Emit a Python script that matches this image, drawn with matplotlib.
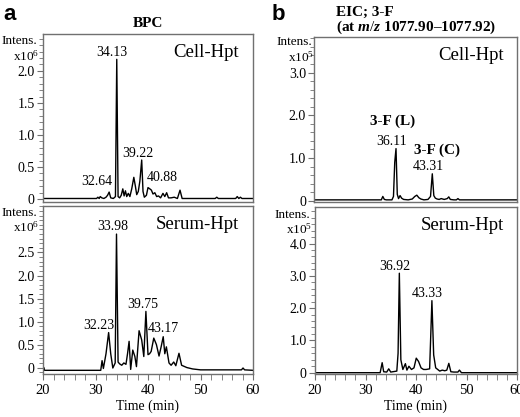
import matplotlib
matplotlib.use("Agg")
import matplotlib.pyplot as plt
from matplotlib.ticker import MultipleLocator

plt.rcParams['font.family'] = ['Liberation Serif', 'DejaVu Serif']
plt.rcParams['mathtext.fontset'] = 'custom'
plt.rcParams['mathtext.rm'] = 'Liberation Serif'
plt.rcParams['mathtext.it'] = 'Liberation Serif:italic:bold'
plt.rcParams['mathtext.bf'] = 'Liberation Serif:bold'

# BPC, Cell-Hpt (x10^6)
cell_bpc_t = [20.0, 30.2, 30.45, 30.7, 30.9, 31.2, 31.6, 32.0, 32.3, 32.6, 32.9, 33.4, 33.8, 34.05,
              34.3, 34.6, 34.9, 35.2, 35.45, 35.7, 35.95, 36.25, 36.55, 36.9, 37.3, 37.6, 37.85, 38.15,
              38.45, 38.8, 39.05, 39.3, 39.7, 40.0, 40.35, 40.65, 40.95, 41.3, 41.65, 42.0, 42.4, 42.85,
              43.2, 43.55, 43.9, 44.4, 45.0, 45.6, 46.1, 46.5, 47.0, 52.8, 53.1, 53.4, 56.7, 57.0, 57.3,
              57.6, 57.9, 60.0]
cell_bpc_v = [0.01, 0.01, 0.03, 0.01, 0.04, 0.02, 0.01, 0.03, 0.06, 0.11, 0.02, 0.01, 0.04, 2.18,
              0.04, 0.02, 0.06, 0.16, 0.05, 0.13, 0.04, 0.09, 0.04, 0.16, 0.34, 0.20, 0.07, 0.12,
              0.28, 0.61, 0.12, 0.03, 0.06, 0.18, 0.16, 0.14, 0.08, 0.10, 0.04, 0.05, 0.02, 0.09,
              0.04, 0.10, 0.02, 0.02, 0.03, 0.01, 0.14, 0.01, 0.01, 0.01, 0.03, 0.01, 0.01, 0.04, 0.01,
              0.03, 0.01, 0.01]

# BPC, Serum-Hpt (x10^6)
serum_bpc_t = [20.0, 20.15, 20.3, 31.0, 31.25, 31.5, 32.0, 32.5, 32.9, 33.3, 33.75, 34.0, 34.3, 34.6,
               35.0, 35.4, 35.8, 36.1, 36.4, 36.7, 37.1, 37.5, 37.8, 38.3, 38.8, 39.2, 39.6, 40.0,
               40.3, 40.6, 41.1, 41.6, 42.1, 42.5, 42.9, 43.2, 43.5, 44.0, 44.4, 44.9, 45.3, 45.9,
               46.4, 47.4, 48.5, 50.0, 57.8, 58.1, 58.4, 60.0]
serum_bpc_v = [-0.03, 0.0, -0.06, -0.06, 0.15, -0.02, 0.3, 0.76, 0.3, -0.01, 0.1, 2.9, 0.12, 0.08,
               0.05, 0.1, 0.07, 0.3, 0.57, -0.04, 0.38, 0.24, 0.02, 0.8, 0.6, 0.24, 1.22, 0.28,
               0.3, 0.35, 0.64, 0.5, 0.25, 0.45, 0.67, 0.3, 0.45, 0.1, 0.05, 0.12, 0.04, 0.31,
               0.05, 0.0, -0.03, -0.05, -0.05, -0.01, -0.05, -0.06]

# EIC 3-F, Cell-Hpt (x10^5)
cell_eic_t = [20.0, 33.2, 33.5, 33.8, 34.2, 35.3, 35.6, 35.85, 36.1, 36.35, 36.6, 36.9, 37.2, 37.6,
              38.5, 39.3, 39.8, 40.2, 40.6, 41.0, 41.6, 42.4, 42.9, 43.25, 43.55, 43.85, 44.2, 44.6,
              45.0, 45.6, 46.2, 46.5, 46.8, 47.5, 48.0, 48.3, 48.6, 60.0]
cell_eic_v = [0.02, 0.02, 0.10, 0.03, 0.02, 0.02, 0.10, 0.90, 1.22, 0.15, 0.05, 0.12, 0.06, 0.03,
              0.02, 0.04, 0.10, 0.13, 0.07, 0.04, 0.02, 0.03, 0.10, 0.63, 0.12, 0.06, 0.04, 0.03,
              0.05, 0.03, 0.05, 0.09, 0.03, 0.02, 0.02, 0.05, 0.02, 0.02]

# EIC 3-F, Serum-Hpt (x10^5)
serum_eic_t = [20.0, 32.9, 33.3, 33.6, 34.2, 34.6, 35.0, 35.4, 36.2, 36.45, 36.7, 37.0, 37.4, 37.9,
               38.2, 38.6, 39.1, 39.6, 40.05, 40.5, 41.0, 41.5, 42.0, 42.7, 43.15, 43.5, 43.9, 44.7,
               45.2, 45.7, 46.1, 46.5, 46.9, 47.5, 48.3, 48.6, 49.0, 60.0]
serum_eic_v = [0.0, 0.0, 0.31, 0.03, 0.02, 0.12, 0.02, 0.03, 0.05, 0.6, 3.08, 0.4, 0.1, 0.28,
               0.08, 0.2, 0.1, 0.15, 0.45, 0.35, 0.15, 0.1, 0.1, 0.12, 2.23, 0.55, 0.15, 0.05,
               0.08, 0.06, 0.08, 0.29, 0.03, 0.02, 0.02, 0.08, 0.0, 0.0]

cell_bpc_labels = [("34.13", 33.15, 2.19), ("39.22", 38.1, 0.61), ("40.88", 42.7, 0.24), ("32.64", 30.3, 0.17)]
serum_bpc_labels = [("33.98", 33.3, 2.92), ("32.23", 30.7, 0.77), ("39.75", 39.05, 1.23), ("43.17", 42.9, 0.71)]
cell_eic_labels = [("36.11", 35.3, 1.23), ("43.31", 42.4, 0.65)]
serum_eic_labels = [("36.92", 35.9, 3.08), ("43.33", 42.3, 2.25)]

GRAY = '#707070'
W, H = 520, 417


def fx(px):
    return px / W


def fy(py):
    return 1 - py / H


def draw_panel(ax, t, v, labels, name, ylim, yticks, yminor, bottom):
    ax.plot(t, v, color='black', lw=1.0)
    ax.set_xlim(20, 60)
    ax.set_ylim(*ylim)
    ax.set_yticks(yticks)
    ax.set_yticklabels(["0"] + [f"{y:.1f}" for y in yticks[1:]])
    ax.yaxis.set_minor_locator(MultipleLocator(yminor))
    for s in ax.spines.values():
        s.set_color(GRAY)
        s.set_linewidth(1.0)
    ax.tick_params(axis='y', which='major', length=4, color=GRAY, labelsize=10, pad=2)
    ax.tick_params(axis='y', which='minor', length=3, color=GRAY)
    if bottom:
        ax.set_xticks([20, 30, 40, 50, 60])
        ax.xaxis.set_minor_locator(MultipleLocator(2))
        ax.tick_params(axis='x', which='both', length=4, color=GRAY, labelsize=10.5, pad=3)
        ax.set_xlabel("Time (min)", fontsize=10, labelpad=2)
    else:
        ax.tick_params(axis='x', which='both', bottom=False, labelbottom=False)
    for txt, x, y in labels:
        ax.text(x, y, txt, ha='center', va='bottom', fontsize=10)
    ax.text(0.935, 0.94, name, transform=ax.transAxes, ha='right', va='top', fontsize=13.5)


fig = plt.figure(figsize=(5.2, 4.17), dpi=100)

ax_a1 = fig.add_axes([fx(43), fy(201.7), fx(210), 167.4 / H])
ax_a2 = fig.add_axes([fx(43), fy(374), fx(210), 168 / H])
ax_b1 = fig.add_axes([fx(314.3), fy(202), fx(203), 165.3 / H])
ax_b2 = fig.add_axes([fx(315), fy(374), fx(202), 167 / H])

draw_panel(ax_a1, cell_bpc_t, cell_bpc_v, cell_bpc_labels, "Cell-Hpt",
           (-0.04, 2.57), [0, 0.5, 1.0, 1.5, 2.0], 0.1, False)
draw_panel(ax_a2, serum_bpc_t, serum_bpc_v, serum_bpc_labels, "Serum-Hpt",
           (-0.14, 3.51), [0, 0.5, 1.0, 1.5, 2.0, 2.5], 0.1, True)
draw_panel(ax_b1, cell_eic_t, cell_eic_v, cell_eic_labels, "Cell-Hpt",
           (-0.03, 3.84), [0, 1.0, 2.0, 3.0], 0.2, False)
draw_panel(ax_b2, serum_eic_t, serum_eic_v, serum_eic_labels, "Serum-Hpt",
           (-0.04, 5.13), [0, 1.0, 2.0, 3.0, 4.0], 0.2, True)

ax_b1.text(35.5, 1.70, "3-F (L)", ha='center', va='bottom', fontsize=11, fontweight='bold')
ax_b1.text(44.2, 1.03, "3-F (C)", ha='center', va='bottom', fontsize=11, fontweight='bold')

# panel letters and titles
fig.text(fx(3), fy(20), "a", fontsize=16, fontweight='bold', family='Liberation Sans', va='baseline')
fig.text(fx(272), fy(20), "b", fontsize=16, fontweight='bold', family='Liberation Sans', va='baseline')
fig.text(fx(148), fy(27), "BPC", fontsize=11, fontweight='bold', ha='center', va='baseline')
fig.text(fx(336), fy(16), "EIC; 3-F", fontsize=11, fontweight='bold', ha='left', va='baseline')
fig.text(fx(336), fy(31), r"(at $\mathit{m/z}$ 1077.90–1077.92)", fontsize=11, fontweight='bold',
         ha='left', va='baseline')

# axis unit labels
for xr, y1, y2, exp in [(37, 44, 61, 6), (37, 216, 232, 6), (312, 45, 62, 5), (310, 218, 234, 5)]:
    fig.text(fx(xr), fy(y1), "Intens.", fontsize=9.5, ha='right', va='baseline')
    fig.text(fx(xr + 2), fy(y2), "x10$^{%d}$" % exp, fontsize=9.5, ha='right', va='baseline')

plt.savefig("out.png", dpi=100)
plt.close()
